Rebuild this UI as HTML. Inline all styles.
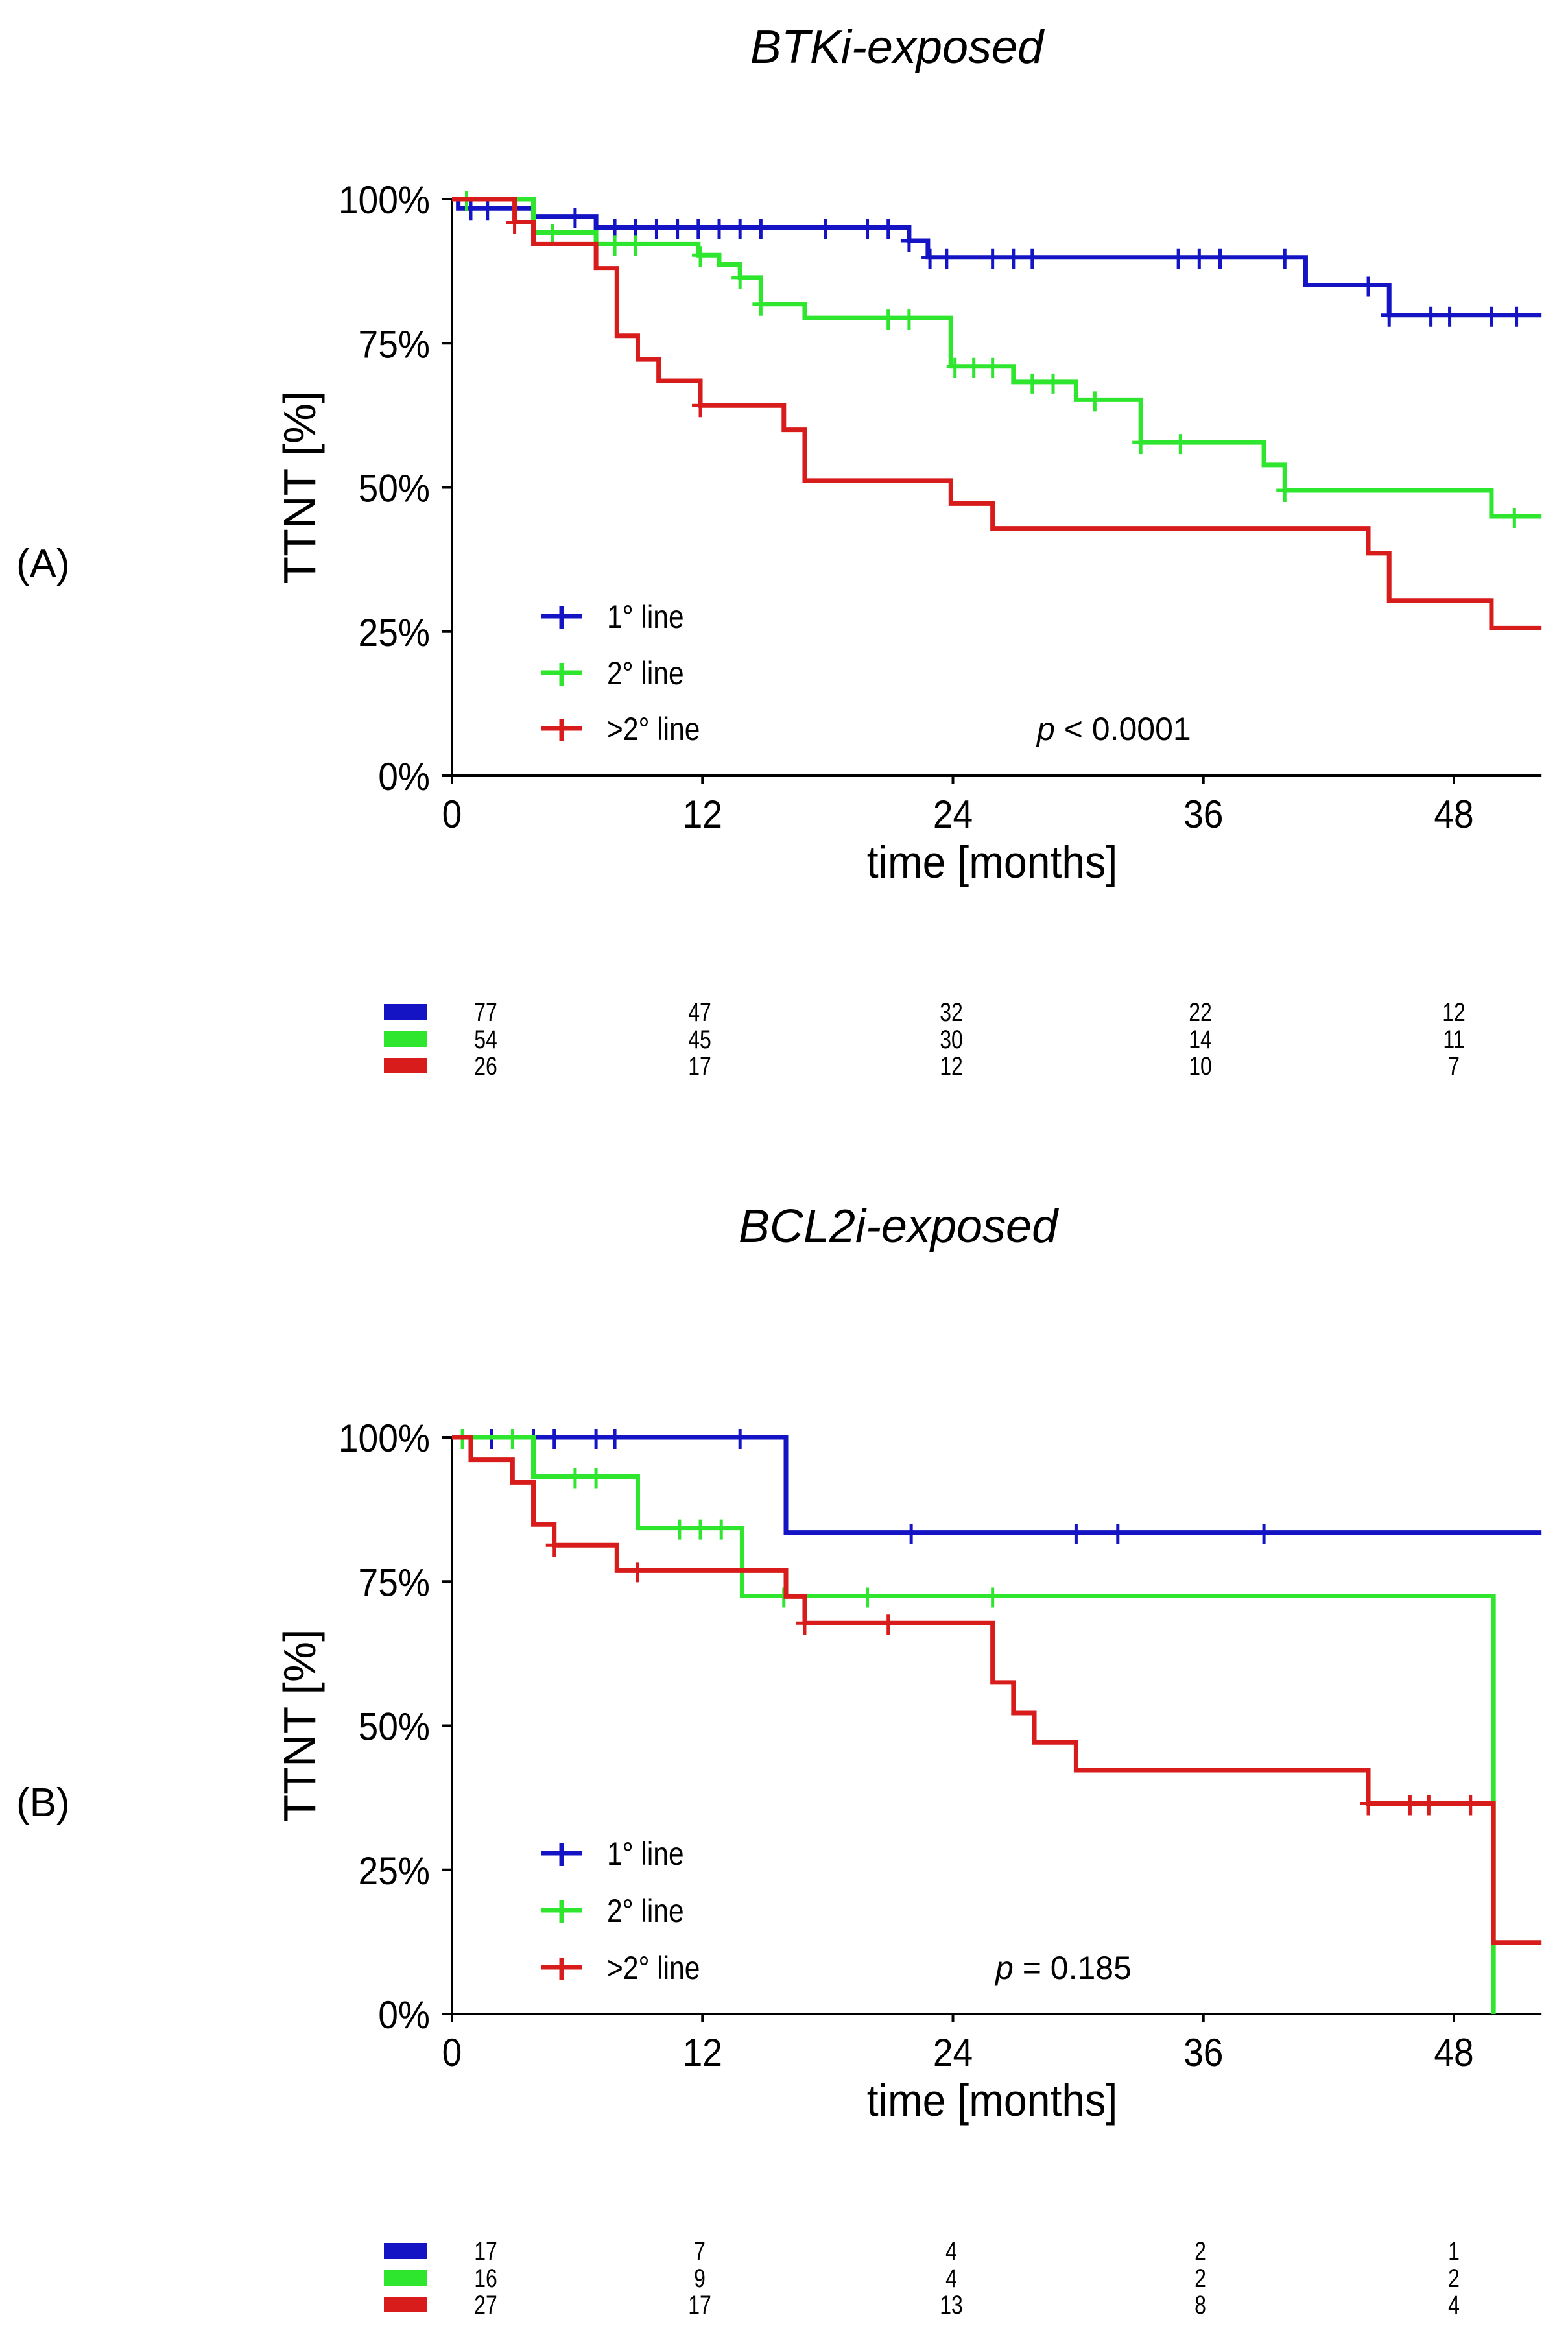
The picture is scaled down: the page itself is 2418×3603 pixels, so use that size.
<!DOCTYPE html>
<html><head><meta charset="utf-8">
<style>
html,body{margin:0;padding:0;background:#fff;}
svg{display:block;}
text{font-family:"Liberation Sans",sans-serif;}
</style></head>
<body>
<svg id="fig" width="2418" height="3603" viewBox="0 0 2418 3603" xmlns="http://www.w3.org/2000/svg"></svg>
<script>
// ---- shared ticks ----
const xTicks = [0, 12, 24, 36, 48];
const yTicks = [0, 25, 50, 75, 100];
const yTickLabels = ["0%", "25%", "50%", "75%", "100%"];
const seriesNames = ["1° line", "2° line", ">2° line"];
const riskTimes = [0, 12, 24, 36, 48];

// ---- Panel A: BTKi-exposed ----
const aBlueT = [0.3, 3.9, 6.9, 21.9, 22.8, 40.9, 44.9];
const aBlueS = [98.4, 97.0, 95.1, 92.8, 89.9, 85.1, 79.9];
const aBlueC = [0.9, 1.7, 5.9, 7.8, 8.8, 9.8, 10.8, 11.8, 12.8, 13.8, 14.8, 17.9, 19.9, 20.9, 21.9, 22.9, 23.7, 25.9, 26.9, 27.8, 34.8, 35.8, 36.8, 39.9, 43.9, 44.9, 46.9, 47.8, 49.8, 51.0];
const aGreenT = [3.9, 6.9, 11.8, 12.8, 13.8, 14.8, 16.9, 23.9, 26.9, 29.9, 33.0, 38.9, 39.9, 49.8];
const aGreenS = [94.2, 92.2, 90.3, 88.7, 86.4, 81.8, 79.4, 71.0, 68.3, 65.2, 57.8, 53.9, 49.5, 45.0];
const aGreenC = [0.7, 4.8, 7.8, 8.8, 11.9, 13.8, 14.8, 20.9, 21.9, 24.1, 25.0, 25.9, 27.8, 28.8, 30.8, 33.0, 34.9, 39.9, 50.9];
const aRedT = [3.0, 3.9, 6.9, 7.9, 8.9, 9.9, 11.9, 15.9, 16.9, 23.9, 25.9, 43.9, 44.9, 49.8];
const aRedS = [96.0, 92.2, 88.0, 76.3, 72.2, 68.5, 64.2, 60.0, 51.2, 47.2, 42.9, 38.6, 30.4, 25.6];
const aRedC = [3.0, 11.9];
const aRiskBlue = [77, 47, 32, 22, 12];
const aRiskGreen = [54, 45, 30, 14, 11];
const aRiskRed = [26, 17, 12, 10, 7];

// ---- Panel B: BCL2i-exposed ----
const bBlueT = [16.0];
const bBlueS = [83.5];
const bBlueC = [1.9, 3.9, 4.9, 6.9, 7.8, 13.8, 22.0, 29.9, 31.9, 38.9];
const bGreenT = [3.9, 8.9, 13.9, 49.9];
const bGreenS = [93.2, 84.3, 72.5, 0];
const bGreenC = [0.5, 2.9, 5.9, 6.9, 10.9, 11.9, 12.9, 15.9, 19.9, 25.9];
const bRedT = [0.9, 2.9, 3.9, 4.9, 7.9, 16.0, 16.9, 25.9, 26.9, 27.9, 29.9, 43.9, 49.9];
const bRedS = [96.1, 92.2, 84.9, 81.3, 76.9, 72.4, 67.8, 57.5, 52.2, 47.1, 42.3, 36.5, 12.4];
const bRedC = [4.9, 8.9, 16.9, 20.9, 43.9, 45.9, 46.8, 48.8];
const bRiskBlue = [17, 7, 4, 2, 1];
const bRiskGreen = [16, 9, 4, 2, 2];
const bRiskRed = [27, 17, 13, 8, 4];

const NS = "http://www.w3.org/2000/svg";
const svg = document.getElementById("fig");
const COLORS = ["#1414c4", "#2de62d", "#d81c1c"];
const XMAX = 52.2;

function mk(tag, attrs, parent, text) {
  const el = document.createElementNS(NS, tag);
  for (const k in attrs) el.setAttribute(k, attrs[k]);
  if (text !== undefined) el.textContent = text;
  (parent || svg).appendChild(el);
  return el;
}

function panel(cfg) {
  const g = mk("g", {});
  
  
  const x0 = 697, x48 = 2242, y0 = cfg.y0, y100 = cfg.y0 - 889;
  const xs = m => x0 + (x48 - x0) * m / 48;
  const ys = v => y0 - (y0 - y100) * v / 100;
  const xEnd = xs(XMAX);

  const t = mk("text", {x: cfg.titleX, y: cfg.titleY, "font-size": 72, "font-style": "italic", "text-anchor": "middle", fill: "#000"}, g, cfg.title);
  
  
  const pl = mk("text", {x: 25, y: cfg.labelY, "font-size": 62, fill: "#000"}, g, cfg.label);
  
  

  // axes
  const ax = mk("g", {stroke: "#000", "stroke-width": 4, fill: "none"}, g);
  
  
  mk("line", {x1: x0, y1: y100, x2: x0, y2: y0 + 2}, ax);
  mk("line", {x1: x0 - 2, y1: y0, x2: xEnd, y2: y0}, ax);
  yTicks.forEach((v, i) => {
    mk("line", {x1: x0 - 15, y1: ys(v), x2: x0, y2: ys(v)}, ax);
    const l = mk("text", {x: 0, y: 0, "font-size": 60, "text-anchor": "end", fill: "#000", stroke: "none", transform: `translate(663 ${ys(v) + 22}) scale(0.92 1)`}, g, yTickLabels[i]);
    
    
  });
  xTicks.forEach(m => {
    mk("line", {x1: xs(m), y1: y0, x2: xs(m), y2: y0 + 13}, ax);
    const l = mk("text", {x: 0, y: 0, "font-size": 60, "text-anchor": "middle", fill: "#000", transform: `translate(${xs(m)} ${y0 + 80}) scale(0.92 1)`}, g, String(m));
    
    
  });
  const yt = mk("text", {x: 0, y: 0, "font-size": 70, "text-anchor": "middle", fill: "#000", transform: `translate(486 ${(y0 + y100) / 2}) rotate(-90)`}, g, "TTNT [%]");
  
  
  const xt = mk("text", {x: 0, y: 0, "font-size": 70, "text-anchor": "middle", fill: "#000", transform: `translate(1530 ${y0 + 157}) scale(0.92 1)`}, g, "time [months]");
  
  

  // curves
  cfg.series.forEach((s, si) => {
    const sg = mk("g", {}, g);
    
    
    let d = `M${xs(0)} ${ys(100)}`;
    let lvl = 100;
    s.t.forEach((tm, i) => {
      d += ` H${xs(tm)} V${ys(s.s[i])}`;
      lvl = s.s[i];
    });
    if (lvl > 0) d += ` H${xEnd}`;
    mk("path", {d: d, stroke: COLORS[si], "stroke-width": 7, fill: "none"}, sg);
    const level = m => { let v = 100; s.t.forEach((tm, i) => { if (tm <= m) v = s.s[i]; }); return v; };
    s.c.forEach(m => {
      const cx = xs(m), cy = ys(level(m));
      const c = mk("path", {d: `M${cx - 13} ${cy}H${cx + 13}M${cx} ${cy - 13}V${cy + 18}`, stroke: COLORS[si], "stroke-width": 5, fill: "none"}, sg);
      
      
    });
  });

  // legend
  const lg = mk("g", {}, g);
  
  
  cfg.legendY.forEach((ly, i) => {
    const e = mk("g", {}, lg);
    
    
    mk("path", {d: `M834 ${ly}H897M866 ${ly - 15}V${ly + 20}`, stroke: COLORS[i], "stroke-width": 7, fill: "none"}, e);
    mk("text", {x: 936, y: ly + 18, "font-size": 50, fill: "#000", transform: `translate(936 0) scale(0.85 1) translate(-936 0)`}, e, seriesNames[i]);
  });
  const pv = mk("text", {x: cfg.pX, y: cfg.legendY[2] + 18, "font-size": 50, fill: "#000"}, g);
  
  
  mk("tspan", {"font-style": "italic"}, pv, "p");
  mk("tspan", {}, pv, cfg.pText);

  // risk table
  const rt = mk("g", {}, g);
  
  
  const colX = [749, 1079, 1467, 1851, 2242];
  cfg.risk.forEach((row, ri) => {
    const ry = cfg.riskY[ri];
    mk("rect", {x: 592, y: ry - 12, width: 66, height: 24, fill: COLORS[ri]}, rt);
    row.forEach((n, ci) => {
      mk("text", {x: 0, y: 0, "font-size": 40, "text-anchor": "middle", fill: "#000", transform: `translate(${colX[ci]} ${ry + 14}) scale(0.8 1)`}, rt, String(n));
    });
  });
}

panel({name: "panel-a-btki", title: "BTKi-exposed", titleX: 1383, titleY: 97, label: "(A)", labelY: 890, y0: 1196,
  series: [{t: aBlueT, s: aBlueS, c: aBlueC}, {t: aGreenT, s: aGreenS, c: aGreenC}, {t: aRedT, s: aRedS, c: aRedC}],
  legendY: [950, 1037, 1123], pX: 1599, pText: " < 0.0001",
  risk: [aRiskBlue, aRiskGreen, aRiskRed], riskY: [1560, 1602, 1643]});

panel({name: "panel-b-bcl2i", title: "BCL2i-exposed", titleX: 1385, titleY: 1915, label: "(B)", labelY: 2800, y0: 3105,
  series: [{t: bBlueT, s: bBlueS, c: bBlueC}, {t: bGreenT, s: bGreenS, c: bGreenC}, {t: bRedT, s: bRedS, c: bRedC}],
  legendY: [2857, 2945, 3033], pX: 1535, pText: " = 0.185",
  risk: [bRiskBlue, bRiskGreen, bRiskRed], riskY: [3470, 3512, 3553]});
</script>
</body></html>
